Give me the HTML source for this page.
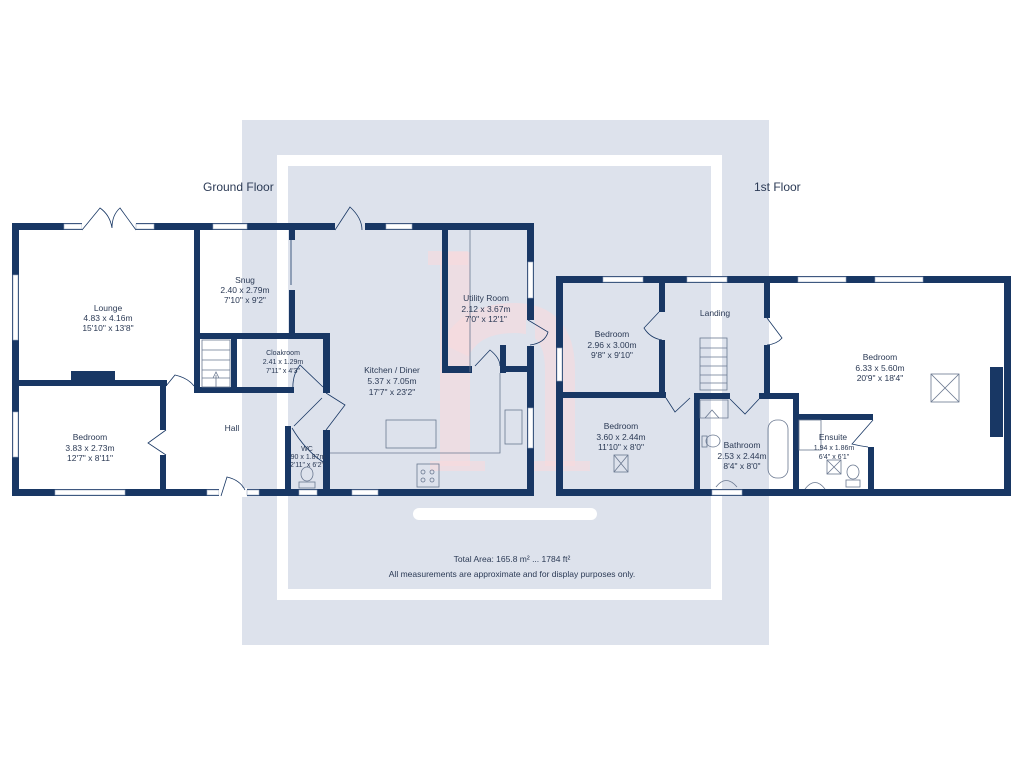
<!DOCTYPE html>
<html><head><meta charset="utf-8"><style>
html,body{margin:0;padding:0;background:#fff;width:1024px;height:768px;overflow:hidden}
svg{display:block}
text{font-family:"Liberation Sans",sans-serif;fill:#2b3a55}
.r{font-size:8.5px;text-anchor:middle}
.s{font-size:7px;text-anchor:middle}
.f{font-size:12px;fill:#2b3a55}
.w{fill:#183764}
.win{fill:#fff;stroke:#9aa8c0;stroke-width:0.6}
.d{fill:none;stroke:#183764;stroke-width:0.8}
.t{fill:none;stroke:#6a7890;stroke-width:0.8}
</style></head><body>
<svg width="1024" height="768" viewBox="0 0 1024 768" xmlns="http://www.w3.org/2000/svg">
<rect x="242" y="120" width="527" height="525" fill="#dde2ec"/>
<rect x="282.5" y="160.5" width="434" height="434" fill="none" stroke="#fff" stroke-width="11"/>
<rect x="413" y="508" width="184" height="12" rx="6" fill="#fff"/>
<g fill="none" stroke="#f9d8dc" stroke-opacity="0.55" stroke-linecap="butt">
<path d="M455 466 V252" stroke-width="30"/>
<path d="M428 258 H468" stroke-width="14"/>
<path d="M455 350 Q470 318 515 318 Q560 318 560 370 V466" stroke-width="30"/>
<path d="M430 466 H485 M530 466 H590" stroke-width="10"/>
</g>
<text class="f" x="203" y="191">Ground Floor</text>
<text class="f" x="754" y="191">1st Floor</text>

<g class="w">
<rect x="12" y="223" width="522" height="7"/>
<rect x="12" y="489" width="522" height="7"/>
<rect x="12" y="223" width="7" height="273"/>
<rect x="527" y="223" width="7" height="273"/>
<rect x="194" y="223" width="6" height="170"/>
<rect x="12" y="380" width="155" height="6"/>
<rect x="71" y="371" width="44" height="12"/>
<rect x="160" y="380" width="6" height="50"/>
<rect x="160" y="455" width="6" height="41"/>
<rect x="194" y="387" width="100" height="6"/>
<rect x="194" y="333" width="136" height="6"/>
<rect x="231" y="333" width="6" height="58"/>
<rect x="289" y="223" width="6" height="17"/>
<rect x="289" y="290" width="6" height="46"/>
<rect x="323" y="333" width="7" height="60"/>
<rect x="323" y="430" width="7" height="66"/>
<rect x="285" y="426" width="6" height="70"/>
<rect x="442" y="223" width="6" height="150"/>
<rect x="442" y="366" width="30" height="7"/>
<rect x="500" y="366" width="34" height="6"/>
<rect x="500" y="345" width="6" height="28"/>
</g>
<rect class="win" x="64" y="224" width="18" height="5"/>
<rect x="82" y="222" width="54" height="9" fill="#fff"/>
<rect class="win" x="136" y="224" width="18" height="5"/>
<rect class="win" x="213" y="224" width="34" height="5"/>
<rect x="335" y="222" width="30" height="9" fill="#dde2ec"/>
<rect class="win" x="386" y="224" width="26" height="5"/>
<rect class="win" x="13" y="275" width="5" height="65"/>
<rect class="win" x="13" y="412" width="5" height="45"/>
<rect class="win" x="55" y="490" width="70" height="5"/>
<rect class="win" x="207" y="490" width="12" height="5"/>
<rect x="219" y="488" width="28" height="9" fill="#fff"/>
<rect class="win" x="247" y="490" width="12" height="5"/>
<rect class="win" x="299" y="490" width="18" height="5"/>
<rect class="win" x="352" y="490" width="26" height="5"/>
<rect class="win" x="528" y="262" width="5" height="36"/>
<rect x="526" y="320" width="9" height="26" fill="#dde2ec"/>
<rect class="win" x="528" y="408" width="5" height="40"/>
<rect x="160" y="430" width="6" height="25" fill="#fff"/>
<rect x="323" y="393" width="7" height="37" fill="#dde2ec"/>
<path class="d" d="M82 230 L100 208 Q110 215 112 228 M136 230 L120 208 Q112 215 112 228"/>
<path class="d" d="M335 230 L350 207 Q362 218 362 230"/>
<path class="d" d="M166 430 L148 443 L166 455"/>
<path class="d" d="M166 386 L175 375 Q188 378 194 386"/>
<path class="d" d="M221 496 L227 477 Q240 480 245 490"/>
<path class="d" d="M326 393 L345 405 L326 430"/>
<path class="d" d="M323 387 L300 365 Q292 375 293 390"/>
<path class="d" d="M294 426 L322 398 M292 428 Q305 450 323 462"/>
<path class="d" d="M475 366 L490 350 Q500 358 500 366"/>
<path class="d" d="M528 320 L548 332 Q545 343 530 345"/>
<path class="d" d="M291 240 V285"/>
<g class="t"><rect x="202" y="340" width="28" height="47"/>
<path d="M202 350H230M202 360H230M202 370H230M202 378H230M216 387V375M213 378L216 372L219 378"/></g>
<g class="t">
<path d="M470 230 V372 M500 373 V453 H330"/>
<rect x="386" y="420" width="50" height="28"/>
<rect x="505" y="410" width="17" height="34"/>
<rect x="417" y="464" width="22" height="23"/>
<circle cx="423" cy="472" r="2"/><circle cx="432" cy="472" r="2"/><circle cx="423" cy="480" r="2"/><circle cx="432" cy="480" r="2"/>
<ellipse cx="307" cy="474" rx="6" ry="7"/><rect x="299" y="482" width="16" height="6"/>
</g>
<text class="r" x="108" y="311">Lounge</text><text class="r" x="108" y="321">4.83 x 4.16m</text><text class="r" x="108" y="331">15'10" x 13'8"</text>
<text class="r" x="245" y="283">Snug</text><text class="r" x="245" y="293">2.40 x 2.79m</text><text class="r" x="245" y="303">7'10" x 9'2"</text>
<text class="s" x="283" y="355">Cloakroom</text><text class="s" x="283" y="364">2.41 x 1.29m</text><text class="s" x="283" y="373">7'11" x 4'3"</text>
<text class="r" x="392" y="373">Kitchen / Diner</text><text class="r" x="392" y="384">5.37 x 7.05m</text><text class="r" x="392" y="395">17'7" x 23'2"</text>
<text class="r" x="486" y="301">Utility Room</text><text class="r" x="486" y="312">2.12 x 3.67m</text><text class="r" x="486" y="322">7'0" x 12'1"</text>
<text class="r" x="90" y="440">Bedroom</text><text class="r" x="90" y="451">3.83 x 2.73m</text><text class="r" x="90" y="461">12'7" x 8'11"</text>
<text class="r" x="232" y="431">Hall</text>
<text class="s" x="307" y="451">WC</text><text class="s" x="307" y="459">.90 x 1.87m</text><text class="s" x="307" y="467">2'11" x 6'2"</text>

<g class="w">
<rect x="556" y="276" width="455" height="7"/>
<rect x="556" y="489" width="455" height="7"/>
<rect x="556" y="276" width="7" height="220"/>
<rect x="1004" y="276" width="7" height="220"/>
<rect x="659" y="276" width="6" height="36"/>
<rect x="659" y="340" width="6" height="58"/>
<rect x="556" y="392" width="110" height="6"/>
<rect x="694" y="393" width="36" height="6"/>
<rect x="759" y="393" width="40" height="6"/>
<rect x="694" y="393" width="6" height="103"/>
<rect x="764" y="276" width="6" height="42"/>
<rect x="764" y="345" width="6" height="52"/>
<rect x="793" y="393" width="6" height="103"/>
<rect x="793" y="414" width="80" height="6"/>
<rect x="868" y="447" width="6" height="49"/>
<rect x="990" y="367" width="13" height="70"/>
</g>
<rect class="win" x="603" y="277" width="40" height="5"/>
<rect class="win" x="687" y="277" width="40" height="5"/>
<rect class="win" x="798" y="277" width="48" height="5"/>
<rect class="win" x="875" y="277" width="48" height="5"/>
<rect class="win" x="557" y="348" width="5" height="33"/>
<rect class="win" x="712" y="490" width="30" height="5"/>
<path class="d" d="M659 312 L644 328 Q650 338 662 340"/>
<path class="d" d="M767 318 L782 338 Q777 344 767 345"/>
<path class="d" d="M666 398 L675 412 L690 398"/>
<path class="d" d="M730 399 L745 414 L759 399"/>
<path class="d" d="M873 420 L852 444 Q860 446 868 447"/>
<g class="t">
<rect x="700" y="338" width="27" height="52"/>
<path d="M700 348H727M700 357H727M700 366H727M700 375H727M700 383H727"/>
<path d="M700 400 H728 V418 H700 Z M705 418 L712 410 L719 418"/>
<rect x="768" y="420" width="20" height="58" rx="9"/>
<rect x="799" y="420" width="22" height="30"/>
<ellipse cx="713" cy="441" rx="7" ry="6"/><rect x="702" y="436" width="5" height="11"/>
<path d="M716 487 Q726 474 737 487"/>
<path d="M805 489 Q815 476 825 489"/>
<ellipse cx="853" cy="472" rx="6" ry="7"/><rect x="846" y="480" width="14" height="7"/>
<rect x="827" y="460" width="14" height="14"/><path d="M827 460L841 474M841 460L827 474"/>
<rect x="614" y="455" width="14" height="17"/><path d="M614 455L628 472M628 455L614 472"/>
<rect x="931" y="374" width="28" height="28"/><path d="M931 374L959 402M959 374L931 402"/>
</g>
<text class="r" x="715" y="316">Landing</text>
<text class="r" x="612" y="337">Bedroom</text><text class="r" x="612" y="348">2.96 x 3.00m</text><text class="r" x="612" y="358">9'8" x 9'10"</text>
<text class="r" x="621" y="429">Bedroom</text><text class="r" x="621" y="440">3.60 x 2.44m</text><text class="r" x="621" y="450">11'10" x 8'0"</text>
<text class="r" x="742" y="448">Bathroom</text><text class="r" x="742" y="459">2.53 x 2.44m</text><text class="r" x="742" y="469">8'4" x 8'0"</text>
<text class="r" x="833" y="440">Ensuite</text><text class="s" x="834" y="450">1.94 x 1.86m</text><text class="s" x="834" y="459">6'4" x 6'1"</text>
<text class="r" x="880" y="360">Bedroom</text><text class="r" x="880" y="371">6.33 x 5.60m</text><text class="r" x="880" y="381">20'9" x 18'4"</text>

<text class="r" x="512" y="562">Total Area: 165.8 m² ... 1784 ft²</text>
<text class="r" x="512" y="577">All measurements are approximate and for display purposes only.</text>
</svg>
</body></html>
